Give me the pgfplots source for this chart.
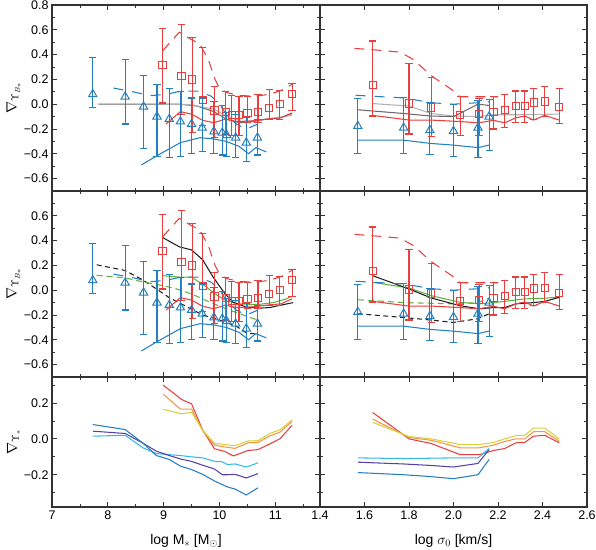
\documentclass[border=0pt]{standalone}
\usepackage{pgfplots}
\pgfplotsset{compat=1.18}
\usepackage{pgfplotstable}
\usepackage{fontspec}
\setmainfont{Liberation Sans}

\definecolor{cred}{RGB}{232,62,62}
\definecolor{cblue}{RGB}{35,128,192}
\definecolor{lgrey}{RGB}{178,178,178}
\definecolor{dgrey}{RGB}{105,105,105}
\definecolor{cgreen}{RGB}{95,175,65}
\definecolor{cblack}{RGB}{30,30,30}
\definecolor{corange}{RGB}{242,150,70}
\definecolor{cyellow}{RGB}{218,208,60}
\definecolor{ccyan}{RGB}{50,185,232}
\definecolor{cpurple}{RGB}{85,65,165}
\definecolor{cdblue}{RGB}{35,125,195}

% ---------- left column (log M*) ----------
\pgfplotstableread{
x y
8.98 0.315
9.32 0.225
9.51 0.20
9.70 0.035
9.91 -0.05
10.11 -0.065
10.22 -0.085
10.35 -0.085
10.50 -0.07
10.69 -0.06
10.89 -0.03
11.08 0.0
11.30 0.08
}\sqL
\pgfplotstableread{
x v
8.98 0.01
8.98 0.61
8.98 nan
9.32 -0.08
9.32 0.64
9.32 nan
9.51 -0.23
9.51 0.54
9.51 nan
9.70 -0.17
9.70 0.46
9.70 nan
9.91 -0.27
9.91 0.14
9.91 nan
10.11 -0.24
10.11 0.10
10.11 nan
10.22 -0.25
10.22 0.07
10.22 nan
10.35 -0.25
10.35 0.06
10.35 nan
10.50 -0.15
10.50 0.065
10.50 nan
10.69 -0.15
10.69 0.08
10.69 nan
10.89 -0.12
10.89 0.12
10.89 nan
11.08 -0.12
11.08 0.11
11.08 nan
11.30 -0.05
11.30 0.17
}\sqLbar
\pgfplotstableread{
x y
7.73 0.08
8.31 0.06
8.64 -0.02
8.88 -0.10
9.10 -0.12
9.30 -0.14
9.50 -0.16
9.69 -0.19
9.90 -0.22
10.05 -0.23
10.13 -0.25
10.29 -0.27
10.48 -0.31
10.68 -0.27
}\triL
\pgfplotstableread{
x v
7.73 -0.03
7.73 0.38
7.73 nan
8.31 -0.16
8.31 0.36
8.31 nan
8.64 -0.36
8.64 0.23
8.64 nan
8.88 -0.42
8.88 0.16
8.88 nan
9.10 -0.43
9.10 0.13
9.10 nan
9.30 -0.42
9.30 0.10
9.30 nan
9.50 -0.40
9.50 0.05
9.50 nan
9.69 -0.38
9.69 0.05
9.69 nan
9.90 -0.40
9.90 0.02
9.90 nan
10.05 -0.41
10.05 -0.01
10.05 nan
10.13 -0.42
10.13 -0.07
10.13 nan
10.29 -0.43
10.29 -0.08
10.29 nan
10.48 -0.46
10.48 -0.11
10.48 nan
10.68 -0.41
10.68 -0.12
}\triLbar
\pgfplotstableread{
x y
8.98 0.43
9.28 0.58
9.50 0.52
9.64 0.49
9.80 0.36
9.92 0.20
10.00 0.13
10.12 0.095
10.35 0.07
10.65 0.065
10.90 0.08
11.10 0.11
11.30 0.16
}\rdL
\pgfplotstableread{
x y
9.04 -0.16
9.30 -0.06
9.50 -0.08
9.70 -0.13
9.90 -0.15
10.10 -0.12
10.30 -0.14
10.60 -0.135
10.85 -0.12
11.10 -0.11
11.30 -0.07
}\rsL
\pgfplotstableread{
x y
8.10 0.13
8.40 0.105
8.60 0.085
8.80 0.07
9.05 0.08
9.25 0.10
9.45 0.105
9.62 0.105
9.85 0.065
10.00 0.0
10.12 -0.08
10.30 -0.16
10.48 -0.20
10.69 -0.16
}\bdL
\pgfplotstableread{
x y
8.60 -0.49
8.90 -0.41
9.30 -0.31
9.65 -0.27
9.90 -0.28
10.12 -0.30
10.35 -0.34
10.52 -0.40
10.65 -0.35
10.84 -0.385
}\bsL

% ---------- right column (log sigma0) ----------
\pgfplotstableread{
x y
1.637 0.153
1.80 0.005
1.90 -0.027
2.03 -0.087
2.115 -0.081
2.18 -0.06
2.23 -0.047
2.28 -0.015
2.32 -0.015
2.36 0.013
2.41 0.021
2.475 -0.02
}\sqR
\pgfplotstableread{
x v
1.637 -0.095
1.637 0.51
1.637 nan
1.80 -0.24
1.80 0.33
1.80 nan
1.90 -0.26
1.90 0.215
1.90 nan
2.03 -0.25
2.03 0.06
2.03 nan
2.115 -0.25
2.115 0.048
2.115 nan
2.18 -0.20
2.18 0.06
2.18 nan
2.23 -0.19
2.23 0.08
2.23 nan
2.28 -0.15
2.28 0.107
2.28 nan
2.32 -0.15
2.32 0.107
2.32 nan
2.36 -0.12
2.36 0.13
2.36 nan
2.41 -0.10
2.41 0.142
2.41 nan
2.475 -0.157
2.475 0.126
}\sqRbar
\pgfplotstableread{
x y
1.57 -0.176
1.776 -0.19
1.894 -0.21
2.0 -0.217
2.11 -0.19
2.16 -0.10
}\triR
\pgfplotstableread{
x v
1.57 -0.40
1.57 0.048
1.57 nan
1.776 -0.40
1.776 0.053
1.776 nan
1.894 -0.405
1.894 0.013
1.894 nan
2.0 -0.42
2.0 0.0
2.0 nan
2.11 -0.43
2.11 0.03
2.11 nan
2.16 -0.37
2.16 0.04
}\triRbar
\pgfplotstableread{
x y
1.555 0.45
1.66 0.436
1.76 0.42
1.82 0.36
1.90 0.23
1.99 0.12
2.03 0.06
2.20 0.06
}\rdR
\pgfplotstableread{
x y
1.637 -0.09
1.80 -0.128
1.90 -0.128
2.03 -0.14
2.115 -0.15
2.18 -0.13
2.23 -0.15
2.28 -0.11
2.32 -0.095
2.36 -0.128
2.41 -0.09
2.475 -0.128
}\rsR
\pgfplotstableread{
x y
1.56 0.072
1.78 0.05
1.90 0.012
2.00 0.0
2.11 0.012
2.16 0.02
}\bdR
\pgfplotstableread{
x y
1.57 -0.29
1.776 -0.29
1.894 -0.316
2.0 -0.33
2.11 -0.35
2.16 -0.33
}\bsR

\pgfplotsset{
  panel/.style={
    scale only axis, anchor=south west,
    axis line style={line width=1.1pt, black!80},
    tick style={black!80, line width=0.8pt},
    major tick length=5pt, minor tick length=3pt,
    tick align=inside,
    tick label style={font=\fontsize{12.5}{14}\selectfont},
    label style={font=\fontsize{14}{16}\selectfont},
    /pgf/number format/assume math mode=true,
    unbounded coords=jump,
    clip=true,
  },
  L/.style={xmin=7, xmax=11.8, width=268pt, xtick={7,8,9,10,11},
    minor xtick={7.5,8.5,9.5,10.5,11.5},
    ylabel style={at={(axis description cs:-0.143,0.5)}, anchor=center,
      font=\fontsize{14}{16}\selectfont}},
  R/.style={xmin=1.4, xmax=2.6, width=267pt,
    xtick={1.4,1.6,1.8,2.0,2.2,2.4,2.6}, yticklabels={}},
  TM/.style={ymin=-0.7, ymax=0.8, height=186pt, xticklabels={},
    minor ytick={-0.7,-0.5,-0.3,-0.1,0.1,0.3,0.5,0.7}},
  BOT/.style={ymin=-0.38, ymax=0.345, height=130pt,
    ytick={-0.2,0,0.2}, minor ytick={-0.3,-0.1,0.1,0.3},
    xlabel style={at={(axis description cs:0.5,-0.26)}, anchor=center}},
  lin/.style={line width=1.05pt},
  bars/.style={line width=1.15pt, mark=-, mark size=3.6pt, mark options={line width=1.15pt}},
  sqm/.style={cred, only marks, mark=square, mark size=3.6pt, mark options={line width=1.0pt}},
  trim/.style={cblue, only marks, mark=triangle, mark size=4.8pt, mark options={line width=1.0pt}},
}

\begin{document}
\begin{tikzpicture}[x=1pt,y=1pt]

% ===== top left =====
\begin{axis}[panel, L, TM, at={(52pt,358pt)},
  ytick={-0.6,-0.4,-0.2,0,0.2,0.4,0.6,0.8},
  yticklabels={−0.6,−0.4,−0.2,0.0,0.2,0.4,0.6,0.8},
  ylabel={$\nabla_{\Upsilon_{B_*}}$}]
\addplot[lin, dgrey] coordinates {(7.83,0.0) (9.3,0.0) (9.6,-0.015) (9.9,-0.06) (10.12,-0.12) (10.36,-0.15) (10.6,-0.14) (10.84,-0.12) (11.08,-0.11) (11.3,-0.075)};
\addplot[lin, lgrey] coordinates {(9.0,0.0) (9.5,-0.005) (9.9,-0.04) (10.15,-0.10) (10.4,-0.14) (10.7,-0.13) (11.0,-0.11) (11.3,-0.09)};
\addplot[lin, cred, dash pattern=on 10pt off 7pt] table {\rdL};
\addplot[lin, cred] table {\rsL};
\addplot[lin, cblue, dash pattern=on 10pt off 9pt] table {\bdL};
\addplot[lin, cblue] table {\bsL};
\addplot[cred, bars] table[x=x, y=v] {\sqLbar};
\addplot[cblue, bars] table[x=x, y=v] {\triLbar};
\addplot[sqm] table[x=x, y=y] {\sqL};
\addplot[trim] table[x=x, y=y] {\triL};
\end{axis}

% ===== top right =====
\begin{axis}[panel, R, TM, at={(320pt,358pt)},
  ytick={-0.6,-0.4,-0.2,0,0.2,0.4,0.6,0.8}]
\addplot[lin, lgrey] coordinates {(1.637,0.005) (1.80,-0.015) (1.90,-0.075) (2.0,-0.095) (2.115,-0.1) (2.18,-0.085) (2.3,-0.085) (2.475,-0.08)};
\addplot[lin, dgrey] coordinates {(1.57,-0.045) (1.776,-0.075) (1.894,-0.095) (2.0,-0.1) (2.11,0.0) (2.16,-0.01)};
\addplot[lin, cred, dash pattern=on 10pt off 7pt] table {\rdR};
\addplot[lin, cred] table {\rsR};
\addplot[lin, cblue, dash pattern=on 10pt off 9pt] table {\bdR};
\addplot[lin, cblue] table {\bsR};
\addplot[cred, bars] table[x=x, y=v] {\sqRbar};
\addplot[cblue, bars] table[x=x, y=v] {\triRbar};
\addplot[sqm] table[x=x, y=y] {\sqR};
\addplot[trim] table[x=x, y=y] {\triR};
\end{axis}

% ===== middle left =====
\begin{axis}[panel, L, TM, at={(52pt,172pt)},
  ytick={-0.6,-0.4,-0.2,0,0.2,0.4,0.6},
  yticklabels={−0.6,−0.4,−0.2,0.0,0.2,0.4,0.6},
  ylabel={$\nabla_{\Upsilon_{B_*}}$}]
\addplot[lin, cblack, dash pattern=on 5pt off 3.5pt] coordinates {(7.8,0.205) (8.3,0.16) (8.6,0.09) (8.87,0.01) (9.1,-0.06) (9.4,-0.13) (9.7,-0.20) (10.0,-0.24) (10.3,-0.29) (10.5,-0.35) (10.63,-0.35)};
\addplot[lin, cgreen, dash pattern=on 6pt off 4pt] coordinates {(7.8,0.12) (8.3,0.10) (8.6,0.07) (8.9,0.045) (9.2,0.015) (9.5,-0.03) (9.77,-0.085) (10.06,-0.14) (10.3,-0.18) (10.55,-0.22) (10.65,-0.235)};
\addplot[lin, cgreen] coordinates {(8.99,0.117) (9.3,0.105) (9.5,0.105) (9.74,0.035) (9.92,-0.03) (10.12,-0.085) (10.36,-0.11) (10.66,-0.117) (10.96,-0.1) (11.2,-0.07) (11.32,-0.044)};
\addplot[lin, cblack] coordinates {(8.98,0.425) (9.28,0.35) (9.5,0.325) (9.7,0.245) (9.88,0.11) (10.1,-0.03) (10.25,-0.10) (10.48,-0.135) (10.7,-0.145) (10.9,-0.14) (11.05,-0.125) (11.32,-0.10)};
\addplot[lin, cred, dash pattern=on 10pt off 7pt] table {\rdL};
\addplot[lin, cred] table {\rsL};
\addplot[lin, cblue, dash pattern=on 10pt off 9pt] table {\bdL};
\addplot[lin, cblue] table {\bsL};
\addplot[cred, bars] table[x=x, y=v] {\sqLbar};
\addplot[cblue, bars] table[x=x, y=v] {\triLbar};
\addplot[sqm] table[x=x, y=y] {\sqL};
\addplot[trim] table[x=x, y=y] {\triL};
\end{axis}

% ===== middle right =====
\begin{axis}[panel, R, TM, at={(320pt,172pt)},
  ytick={-0.6,-0.4,-0.2,0,0.2,0.4,0.6}]
\addplot[lin, cblack, dash pattern=on 5pt off 3.5pt] coordinates {(1.57,-0.19) (1.776,-0.22) (1.894,-0.24) (2.0,-0.26) (2.11,-0.23) (2.16,-0.19)};
\addplot[lin, cgreen, dash pattern=on 6pt off 4pt] coordinates {(1.57,-0.077) (1.78,-0.10) (2.0,-0.11) (2.11,-0.10) (2.16,-0.065)};
\addplot[lin, cgreen] coordinates {(1.637,0.063) (1.80,0.018) (1.90,-0.044) (2.03,-0.098) (2.115,-0.11) (2.18,-0.1) (2.23,-0.09) (2.32,-0.07) (2.41,-0.065) (2.475,-0.055)};
\addplot[lin, cblack] coordinates {(1.637,0.117) (1.80,0.01) (1.90,-0.063) (2.03,-0.125) (2.115,-0.15) (2.18,-0.14) (2.23,-0.14) (2.28,-0.11) (2.32,-0.105) (2.36,-0.1) (2.41,-0.09) (2.475,-0.058)};
\addplot[lin, cred, dash pattern=on 10pt off 7pt] table {\rdR};
\addplot[lin, cred] table {\rsR};
\addplot[lin, cblue, dash pattern=on 10pt off 9pt] table {\bdR};
\addplot[lin, cblue] table {\bsR};
\addplot[cred, bars] table[x=x, y=v] {\sqRbar};
\addplot[cblue, bars] table[x=x, y=v] {\triRbar};
\addplot[sqm] table[x=x, y=y] {\sqR};
\addplot[trim] table[x=x, y=y] {\triR};
\end{axis}

% ===== bottom left =====
\begin{axis}[panel, L, BOT, at={(52pt,42pt)},
  yticklabels={−0.2,0.0,0.2},
  ylabel={$\nabla_{\Upsilon_*}$},
  xlabel={log M$_*$ [M$_\odot$]}]
\addplot[lin, cred] coordinates {(8.99,0.30) (9.32,0.22) (9.5,0.195) (9.7,0.048) (9.91,-0.055) (10.09,-0.07) (10.25,-0.095) (10.51,-0.065) (10.69,-0.06) (10.89,-0.03) (11.08,0.0) (11.3,0.075)};
\addplot[lin, corange] coordinates {(8.99,0.25) (9.3,0.166) (9.5,0.166) (9.7,0.045) (9.91,-0.035) (10.09,-0.045) (10.28,-0.053) (10.51,-0.022) (10.69,-0.02) (10.9,0.016) (11.08,0.037) (11.3,0.097)};
\addplot[lin, cyellow] coordinates {(8.99,0.165) (9.32,0.14) (9.5,0.148) (9.7,0.048) (9.91,-0.025) (10.09,-0.032) (10.28,-0.038) (10.51,-0.012) (10.69,-0.01) (10.9,0.03) (11.08,0.05) (11.3,0.105)};
\addplot[lin, ccyan] coordinates {(7.73,0.015) (8.31,0.02) (8.63,-0.05) (8.87,-0.082) (9.10,-0.088) (9.30,-0.093) (9.49,-0.1) (9.70,-0.106) (9.91,-0.125) (10.05,-0.128) (10.14,-0.143) (10.28,-0.14) (10.48,-0.157) (10.69,-0.134)};
\addplot[lin, cpurple] coordinates {(7.73,0.043) (8.31,0.03) (8.63,-0.024) (8.87,-0.069) (9.10,-0.093) (9.30,-0.112) (9.49,-0.125) (9.70,-0.147) (9.91,-0.168) (10.05,-0.2) (10.14,-0.2) (10.28,-0.198) (10.48,-0.218) (10.69,-0.194)};
\addplot[lin, cdblue] coordinates {(7.73,0.08) (8.31,0.052) (8.63,-0.024) (8.87,-0.093) (9.10,-0.115) (9.30,-0.152) (9.49,-0.17) (9.70,-0.198) (9.91,-0.235) (10.05,-0.255) (10.14,-0.268) (10.28,-0.28) (10.48,-0.313) (10.69,-0.273)};
\end{axis}

% ===== bottom right =====
\begin{axis}[panel, R, BOT, at={(320pt,42pt)},
  xticklabels={1.4,1.6,1.8,2.0,2.2,2.4,2.6},
  xlabel={log $\sigma_0$ [km/s]}]
\addplot[lin, cred] coordinates {(1.637,0.147) (1.80,0.0) (1.90,-0.026) (2.03,-0.088) (2.115,-0.088) (2.18,-0.065) (2.23,-0.054) (2.28,-0.022) (2.32,-0.02) (2.36,0.015) (2.41,0.02) (2.475,-0.022)};
\addplot[lin, corange] coordinates {(1.637,0.11) (1.80,0.008) (1.90,-0.008) (2.03,-0.05) (2.115,-0.05) (2.18,-0.035) (2.23,-0.015) (2.28,0.0) (2.32,0.0) (2.36,0.04) (2.41,0.04) (2.475,-0.012)};
\addplot[lin, cyellow] coordinates {(1.637,0.092) (1.80,0.013) (1.90,0.0) (2.03,-0.032) (2.115,-0.032) (2.18,-0.02) (2.23,0.0) (2.28,0.018) (2.32,0.02) (2.36,0.06) (2.41,0.06) (2.475,0.0)};
\addplot[lin, ccyan] coordinates {(1.57,-0.106) (1.776,-0.11) (1.894,-0.108) (2.0,-0.106) (2.11,-0.106) (2.16,-0.054)};
\addplot[lin, cpurple] coordinates {(1.57,-0.13) (1.776,-0.14) (1.894,-0.148) (2.0,-0.157) (2.11,-0.137) (2.16,-0.06)};
\addplot[lin, cdblue] coordinates {(1.57,-0.188) (1.776,-0.2) (1.894,-0.21) (2.0,-0.222) (2.11,-0.2) (2.16,-0.115)};
\end{axis}

\pgfresetboundingbox
\path[use as bounding box] (0,0) rectangle (596,549);
\end{tikzpicture}
\end{document}
